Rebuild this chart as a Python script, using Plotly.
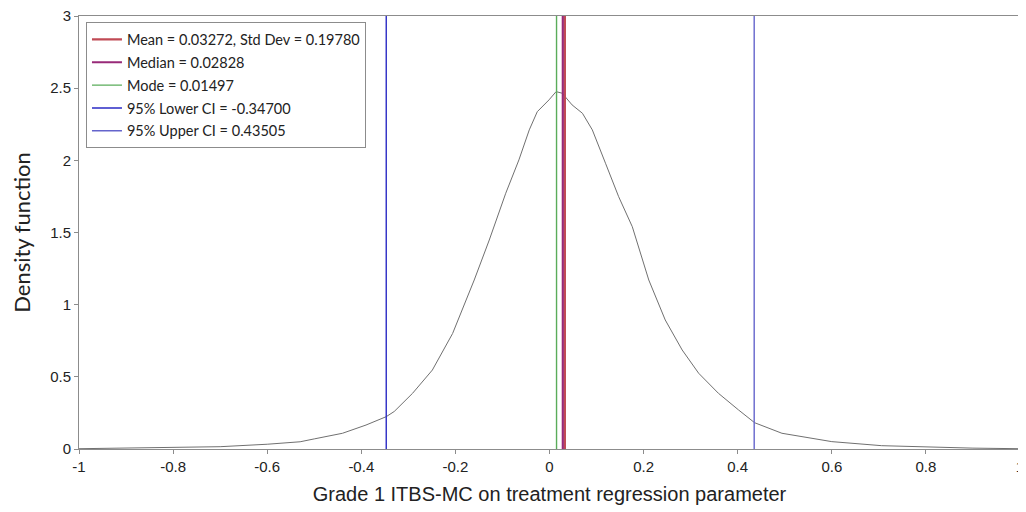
import plotly.graph_objects as go

# Density curve
curve_x = [-1.0, -0.9, -0.8, -0.7, -0.6, -0.53, -0.5, -0.45, -0.44, -0.39, -0.347, -0.33, -0.291,
           -0.249, -0.206, -0.16, -0.128, -0.093, -0.065, -0.043, -0.026, -0.001, 0.014, 0.027,
           0.048, 0.070, 0.091, 0.119, 0.147, 0.176, 0.211, 0.246, 0.282, 0.317, 0.359, 0.402,
           0.436, 0.494, 0.600, 0.706, 0.812, 0.9, 1.0]
curve_y = [0.002, 0.005, 0.01, 0.016, 0.033, 0.05, 0.07, 0.1, 0.109, 0.166, 0.224, 0.26, 0.386,
           0.547, 0.80, 1.171, 1.448, 1.772, 2.003, 2.211, 2.337, 2.419, 2.476, 2.465,
           2.384, 2.326, 2.211, 1.980, 1.748, 1.540, 1.171, 0.894, 0.686, 0.525, 0.386, 0.270,
           0.182, 0.109, 0.051, 0.023, 0.012, 0.006, 0.002]

# Summary statistics (vertical lines)
stat_names = ["Mean = 0.03272, Std Dev = 0.19780", "Median = 0.02828", "Mode = 0.01497",
              "95% Lower CI = -0.34700", "95% Upper CI = 0.43505"]
stat_values = [0.03272, 0.02828, 0.01497, -0.34700, 0.43505]
stat_colors = ["#c04a55", "#982a78", "#5aac5a", "#2a2ac4", "#6464cc"]

x_ticks = [-1, -0.8, -0.6, -0.4, -0.2, 0, 0.2, 0.4, 0.6, 0.8, 1]
x_labels = ["-1", "-0.8", "-0.6", "-0.4", "-0.2", "0", "0.2", "0.4", "0.6", "0.8", "1"]
y_ticks = [0, 0.5, 1, 1.5, 2, 2.5, 3]
y_labels = ["0", "0.5", "1", "1.5", "2", "2.5", "3"]

fig = go.Figure()
fig.add_trace(go.Scatter(x=curve_x, y=curve_y, mode="lines", line=dict(color="#707070", width=1),
                         showlegend=False, hoverinfo="skip"))
for i, (n, v, c) in enumerate(zip(stat_names, stat_values, stat_colors)):
    fig.add_trace(go.Scatter(x=[v, v], y=[0, 3], mode="lines", name=n, legendgroup=str(i),
                             line=dict(color=c, width=2.2 if i < 2 else 1.4)))

axis_common = dict(showgrid=False, zeroline=False, showline=True, linecolor="#8c8c8c", linewidth=1,
                   mirror=True, ticks="outside", ticklen=4, tickcolor="#8c8c8c",
                   ticklabeloverflow="allow",
                   tickfont=dict(family="Liberation Sans, Arial", size=15, color="#222"))

# The page body adds an 8px margin, so the figure is sized/margined to compensate.
fig.update_layout(
    width=1018, height=504,
    margin=dict(l=71, r=6, t=8, b=63),
    plot_bgcolor="white", paper_bgcolor="white",
    xaxis=dict(range=[-1, 1], tickvals=x_ticks, ticktext=x_labels, automargin=False,
               title=dict(text="Grade 1 ITBS-MC on treatment regression parameter",
                          font=dict(family="Liberation Sans, Arial", size=20, color="#222"), standoff=12),
               **axis_common),
    yaxis=dict(range=[0, 3], tickvals=y_ticks, ticktext=y_labels, automargin=False,
               title=dict(text="Density function", font=dict(family="Lato, Open Sans", size=22, color="#222"), standoff=20),
               **axis_common),
    legend=dict(x=0.0074, y=0.985, xanchor="left", yanchor="top", bgcolor="white",
                bordercolor="#8c8c8c", borderwidth=1, tracegroupgap=1,
                font=dict(family="Lato, Open Sans", size=14.5, color="#222")),
)
fig.write_html("out.html")
